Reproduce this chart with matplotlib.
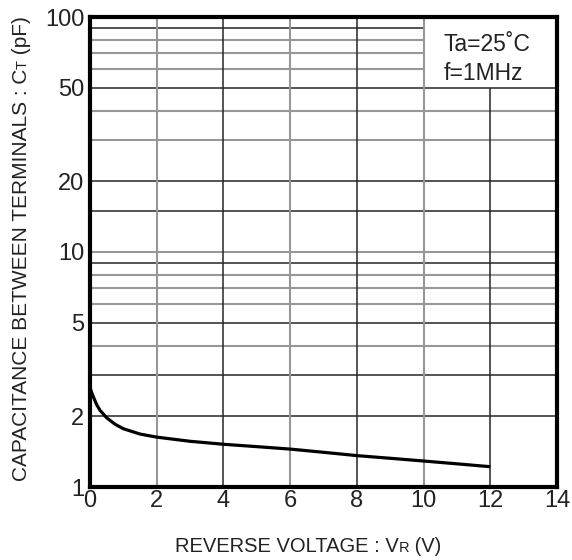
import matplotlib
matplotlib.use("Agg")
import matplotlib.pyplot as plt
from matplotlib.transforms import offset_copy

plt.rcParams['font.family'] = ['Liberation Sans', 'DejaVu Sans']

# data
vr = [0, 0.05, 0.1, 0.2, 0.3, 0.5, 0.75, 1.0, 1.5, 2, 3, 4, 5, 6, 7, 8, 9, 10, 11, 12]
ct = [2.65, 2.52, 2.42, 2.24, 2.12, 1.97, 1.85, 1.77, 1.68, 1.63, 1.565, 1.52,
      1.485, 1.45, 1.405, 1.36, 1.325, 1.29, 1.255, 1.22]
xticks = [0, 2, 4, 6, 8, 10, 12, 14]
yticks = [1, 2, 5, 10, 20, 50, 100]
ytick_labels = ['1', '2', '5', '10', '20', '50', '100']

# gridlines: dark / light
h_dark_full = [2, 3, 5, 9, 15, 20, 50]
h_light_full = [4, 6, 7, 8, 10, 30, 40]
h_dark_part = [90]
h_light_part = [60, 70, 80]
v_dark = [4, 8]
v_light = [2, 6, 10]
v_dark_part = [12]

DARK = '#262626'
LIGHT = '#979797'

fig = plt.figure(figsize=(5.72, 5.60), dpi=100)
ax = fig.add_axes([90/572, 1-487/560, (557-90)/572, (487-17)/560])
ax.set_yscale('log')
ax.set_xlim(0, 14)
ax.set_ylim(1, 100)

for y in h_dark_full:
    ax.axhline(y, color=DARK, lw=1.1, zorder=1)
for y in h_light_full:
    ax.axhline(y, color=LIGHT, lw=1.5, zorder=1)
for y in h_dark_part:
    ax.hlines(y, 0, 10, color=DARK, lw=1.1, zorder=1)
for y in h_light_part:
    ax.hlines(y, 0, 10, color=LIGHT, lw=1.5, zorder=1)
for x in v_dark:
    ax.axvline(x, color=DARK, lw=1.1, zorder=1)
for x in v_light:
    ax.axvline(x, color=LIGHT, lw=1.5, zorder=1)
for x in v_dark_part:
    ax.vlines(x, 1, 50, color=DARK, lw=1.1, zorder=1)

ax.plot(vr, ct, color='black', lw=2.3, zorder=3, solid_capstyle='butt')

ax.set_xticks(xticks)
ax.set_xticklabels([str(t) for t in xticks])
ax.set_yticks(yticks)
ax.set_yticklabels(ytick_labels)
ax.yaxis.set_minor_locator(matplotlib.ticker.NullLocator())
ax.tick_params(axis='both', length=0, labelsize=17, colors='#222222')
ax.tick_params(axis='x', pad=2)
ax.tick_params(axis='y', pad=4)
for s in ax.spines.values():
    s.set_linewidth(3.0)
    s.set_color('black')
    s.set_zorder(5)

ax.text(0.757, 0.965, 'Ta=25˚C\nf=1MHz', transform=ax.transAxes, fontsize=16.5,
        va='top', ha='left', linespacing=1.3, color='#222222')

# axis labels with small-cap subscripts composed from pieces
fig.canvas.draw()
r = fig.canvas.get_renderer()

def compose(parts, x, y, rotation):
    cur = fig.transFigure
    for txt, size in parts:
        t = fig.text(x, y, txt, fontsize=size, rotation=rotation, transform=cur,
                     ha='left', va='baseline', rotation_mode='anchor', color='#222222')
        fig.canvas.draw()
        ext = t.get_window_extent(r)
        if rotation == 0:
            cur = offset_copy(cur, x=ext.width, y=0, fig=fig, units='dots')
        else:
            cur = offset_copy(cur, x=0, y=ext.height, fig=fig, units='dots')

compose([('REVERSE VOLTAGE : V', 14.5), ('R', 10.5), (' (V)', 14.5)],
        175/572, 1-552/560, 0)
compose([('CAPACITANCE BETWEEN TERMINALS : C', 15), ('T', 10.5), (' (pF)', 15)],
        27/572, 1-481/560, 90)

fig.savefig('out.png', dpi=100)
